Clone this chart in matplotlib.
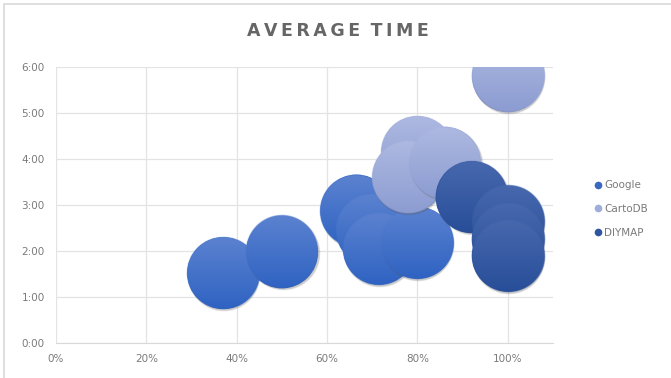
import numpy as np
import matplotlib
matplotlib.use('Agg')
import matplotlib.pyplot as plt
from matplotlib.patches import Rectangle
from matplotlib.colors import to_rgb
from matplotlib.lines import Line2D

# data: x = completion share, y = average time in hours
google_x = [0.37, 0.50, 0.665, 0.70, 0.715, 0.80]
google_y = [1.52, 1.97, 2.88, 2.45, 2.05, 2.18]
carto_x = [1.00, 0.80, 0.78, 0.86]
carto_y = [5.80, 4.15, 3.60, 3.92]
diy_x = [0.92, 1.00, 1.00, 1.00]
diy_y = [3.17, 2.62, 2.25, 1.90]
series = ['Google', 'CartoDB', 'DIYMAP']

x_ticks = [0, 0.2, 0.4, 0.6, 0.8, 1.0]
x_labels = ['0%', '20%', '40%', '60%', '80%', '100%']
y_ticks = [0, 1, 2, 3, 4, 5, 6]
y_labels = ['0:00', '1:00', '2:00', '3:00', '4:00', '5:00', '6:00']

# colour pairs: (top, bottom) of the bubble gradient
colors = {
    'Google': ('#5b82d0', '#2f63c2'),
    'CartoDB': ('#adb9e1', '#8c9cd1'),
    'DIYMAP': ('#4768ad', '#284e99'),
}
legend_colors = {'Google': '#3a68c0', 'CartoDB': '#9eadd9', 'DIYMAP': '#2f55a0'}

DPI = 100
fig = plt.figure(figsize=(6.71, 3.78), dpi=DPI)
fig.patches.append(Rectangle((0.006, -0.01), 1.2, 1.0, transform=fig.transFigure,
                             fill=False, edgecolor='#d9d9d9', linewidth=1.2))
ax = fig.add_axes([56 / 671, 1 - 343 / 378, (553 - 56) / 671, (343 - 67) / 378])

ax.set_xlim(0, 1.1)
ax.set_ylim(0, 6)
ax.set_xticks(x_ticks)
ax.set_xticklabels(x_labels)
ax.set_yticks(y_ticks)
ax.set_yticklabels(y_labels)
ax.tick_params(length=0, labelsize=7.5, labelcolor='#7a7a7a', pad=8)
ax.grid(True, color='#e3e3e3', linewidth=0.9)
ax.set_axisbelow(True)
for s in ['top', 'right', 'left']:
    ax.spines[s].set_visible(False)
ax.spines['bottom'].set_color('#d9d9d9')

title = '\u2009'.join('AVERAGE') + '\u2009\u2009\u2009' + '\u2009'.join('TIME')
fig.text(0.503, 0.918, title, ha='center', va='center',
         fontsize=12.5, fontweight='bold', color='#666666', family='DejaVu Sans')

radius_px = 36
bubble_size = (2 * radius_px * 72 / DPI) ** 2


def bubble_image(top, bottom, r):
    # RGBA picture of one shaded bubble, supersampled x2
    n = 4 * r + 8
    c = (n - 1) / 2
    yy, xx = np.mgrid[0:n, 0:n]
    dist = np.hypot(xx - c, yy - c) / 2
    alpha = np.clip(r - dist + 0.5, 0, 1)
    t = np.clip((yy - (c - 2 * r)) / (4 * r), 0, 1)[..., None]
    rgb = np.array(to_rgb(top)) * (1 - t) + np.array(to_rgb(bottom)) * t
    return np.dstack([rgb, alpha])


def draw_series(xs, ys, name, z):
    top, bottom = colors[name]
    # base circles through scatter
    ax.scatter(xs, ys, s=bubble_size, color=bottom, edgecolors='none', zorder=z)
    img = bubble_image(top, bottom, radius_px)
    shade = bubble_image('#555555', '#555555', radius_px)
    shade[..., 3] *= 0.3
    half = img.shape[0] / 4
    inv = ax.transData.inverted()
    for x, y in zip(xs, ys):
        cx, cy = ax.transData.transform((x, y))
        for im_arr, dx, dy, dz in [(shade, 1.0, -2.0, 0.1), (img, 0, 0, 0.2)]:
            (x0, y0) = inv.transform((cx + dx - half, cy + dy - half))
            (x1, y1) = inv.transform((cx + dx + half, cy + dy + half))
            ax.imshow(im_arr, extent=(x0, x1, y0, y1), aspect='auto',
                      interpolation='antialiased', zorder=z + dz)
        z += 0.3
    return z


fig.canvas.draw()
z = 2
z = draw_series(google_x, google_y, 'Google', z)
z = draw_series(carto_x, carto_y, 'CartoDB', z)
z = draw_series(diy_x, diy_y, 'DIYMAP', z)
ax.set_xlim(0, 1.1)
ax.set_ylim(0, 6)

handles = [Line2D([], [], marker='o', linestyle='none', markersize=4.5,
                  color=legend_colors[n]) for n in series]
leg = fig.legend(handles, series, loc='center left', bbox_to_anchor=(0.869, 0.447),
                 frameon=False, fontsize=7.5, handletextpad=0.1, labelspacing=1.3,
                 handlelength=1.0)
for t in leg.get_texts():
    t.set_color('#7a7a7a')

fig.savefig('out.png', dpi=DPI)
